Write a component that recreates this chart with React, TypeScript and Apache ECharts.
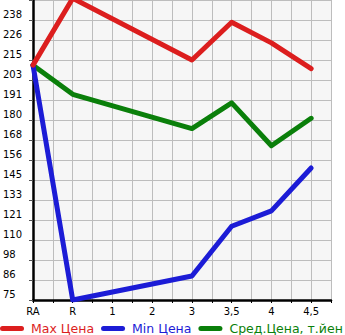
import React, { useEffect, useRef } from "react";
import * as echarts from "echarts";

const categories = ["RA", "R", "1", "2", "3", "3,5", "4", "4,5"];
const maxPrice: (number | null)[] = [212, 251, null, null, 215, 237, 225, 210];
const minPrice: (number | null)[] = [212, 75, null, null, 89, 118, 127, 152];
const avgPrice: (number | null)[] = [212, 195, null, null, 175, 190, 165, 181];
const seriesNames = ["Max Цена", "Min Цена", "Сред.Цена, т.йен"];
const yMin = 75;
const yMax = 250;
const yStep = 35 / 3;

const FONT = "DejaVu Sans";

function toPoints(values: (number | null)[]) {
  return values
    .map((v, i) => (v === null ? null : [i, v]))
    .filter((p) => p !== null) as number[][];
}

export default function App() {
  const ref = useRef<HTMLDivElement>(null);

  useEffect(() => {
    if (!ref.current) return;
    const chart = echarts.init(ref.current, null, { renderer: "svg" });
    const colors = ["#dc1e1e", "#1c1cd6", "#0a7f0a"];
    const pill = "path://M2.5,0 H21.5 A2.5,2.5 0 0 1 21.5,5 H2.5 A2.5,2.5 0 0 1 2.5,0 Z";
    chart.setOption({
      animation: false,
      backgroundColor: "#ffffff",
      textStyle: { fontFamily: FONT },
      grid: {
        left: 31,
        top: 0,
        width: 300,
        height: 300,
        show: true,
        backgroundColor: "#f6f6f6",
        borderWidth: 0,
      },
      legend: {
        left: 0,
        bottom: 0,
        width: 600,
        padding: 0,
        itemWidth: 24,
        itemHeight: 5,
        itemGap: 7,
        icon: pill,
        data: seriesNames.map((n, i) => ({
          name: n,
          textStyle: { color: colors[i] },
        })),
        textStyle: { fontFamily: FONT, fontSize: 12.5, padding: [0, 0, 0, 2] },
      },
      xAxis: {
        type: "value",
        min: 0,
        max: categories.length - 0.5,
        interval: 0.5,
        axisLine: { show: true, lineStyle: { color: "#000", width: 2.5 } },
        axisTick: { show: true, length: 3, lineStyle: { color: "#000", width: 1 } },
        splitLine: { show: true, lineStyle: { color: "#bdbdbd", width: 1 } },
        axisLabel: {
          fontFamily: FONT,
          fontSize: 10,
          color: "#000",
          margin: 6,
          formatter: (v: number) =>
            Number.isInteger(v) && v < categories.length ? categories[v] : "",
        },
      },
      yAxis: {
        type: "value",
        min: yMin,
        max: yMax,
        interval: yStep,
        axisLine: { show: true, lineStyle: { color: "#000", width: 2.5 } },
        axisTick: { show: true, length: 4, lineStyle: { color: "#555", width: 1 } },
        splitLine: { show: true, lineStyle: { color: "#bdbdbd", width: 1 } },
        axisLabel: {
          fontFamily: FONT,
          fontSize: 10,
          color: "#000",
          align: "left",
          verticalAlign: "bottom",
          lineHeight: 11,
          margin: 30,
          formatter: (v: number) =>
            v >= yMax - 1 ? "" : String(Math.floor(v + 1e-6)),
        },
      },
      series: [maxPrice, minPrice, avgPrice].map((vals, i) => ({
        name: seriesNames[i],
        type: "line",
        data: toPoints(vals),
        connectNulls: true,
        showSymbol: false,
        symbol: "none",
        clip: true,
        lineStyle: { color: colors[i], width: 5, join: "round", cap: "round" },
        itemStyle: { color: colors[i] },
        z: 3 - i,
      })),
    });
    return () => chart.dispose();
  }, []);

  return (
    <div
      ref={ref}
      style={{ position: "absolute", left: 0, top: 0, width: 345, height: 335 }}
    />
  );
}
